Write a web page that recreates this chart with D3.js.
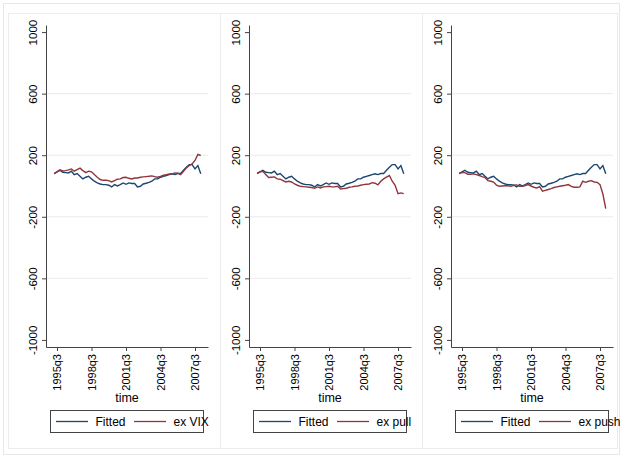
<!DOCTYPE html>
<html><head><meta charset="utf-8">
<script src="https://cdn.jsdelivr.net/npm/d3@7"></script>
<style>body{margin:0;background:#fff} text{font-family:Arial,"Liberation Sans",sans-serif}</style>
</head><body><svg id="c" width="623" height="458"></svg>
<script>
const quarters = ["1995q2","1995q3","1995q4",
"1996q1","1996q2","1996q3","1996q4","1997q1","1997q2","1997q3","1997q4",
"1998q1","1998q2","1998q3","1998q4","1999q1","1999q2","1999q3","1999q4",
"2000q1","2000q2","2000q3","2000q4","2001q1","2001q2","2001q3","2001q4",
"2002q1","2002q2","2002q3","2002q4","2003q1","2003q2","2003q3","2003q4",
"2004q1","2004q2","2004q3","2004q4","2005q1","2005q2","2005q3","2005q4",
"2006q1","2006q2","2006q3","2006q4","2007q1","2007q2","2007q3","2007q4","2008q1"];
const fitted = [81,92,102,89,87,85,96,74,81,63,46,57,63,46,31,20,13,9,9,5,-6,9,0,9,20,11,20,16,16,-6,-2,13,18,24,31,46,46,57,63,68,74,79,74,81,81,102,122,139,139,111,133,79];
const exVIX = [81,92,105,98,100,105,111,96,107,116,100,87,96,92,74,57,42,37,37,35,26,35,44,46,55,57,50,46,52,52,57,59,61,63,66,61,57,63,70,74,79,79,85,83,74,96,118,133,144,166,205,198];
const exPull = [83,92,96,74,55,57,59,46,44,35,26,31,26,13,5,-2,-4,-6,-8,-10,-15,-6,-13,-6,-4,-2,-6,-6,-2,-19,-17,-15,-8,-6,-2,0,5,9,11,13,22,18,7,31,46,57,68,31,5,-50,-45,-50];
const exPush = [83,87,87,76,76,79,74,68,61,55,35,31,26,5,-2,0,2,2,-2,5,7,-2,-2,2,9,0,-8,-13,-4,-34,-28,-23,-17,-10,-6,-2,2,5,9,-2,-8,-8,-6,31,24,31,35,26,24,9,-52,-147];
const yTicks = [-1000,-600,-200,200,600,1000];
const yTickLabels = ["-1000","-600","-200","200","600","1000"];
const gridValues = [-600,-200,200,600];
const xTickLabels = ["1995q3","1998q3","2001q3","2004q3","2007q3"];
const seriesNames = ["Fitted","ex VIX","ex pull","ex push"];

const panels = [
  {label: seriesNames[1], values: exVIX},
  {label: seriesNames[2], values: exPull},
  {label: seriesNames[3], values: exPush}
];
const axisXs = [46, 249, 451];
const colFit = "#1a476f", colRed = "#90353b";
const FONT = 'Arial,"Liberation Sans",sans-serif';

function qIndex(s){ return +s.slice(0,4)*4 + (+s.slice(5)-1); }

const svg = d3.select("#c");
svg.append("rect").attr("width",623).attr("height",458).attr("fill","#fff");
svg.append("rect").attr("x",3.5).attr("y",3.5).attr("width",616).attr("height",451)
   .attr("fill","none").attr("stroke","#e8e8e8");
const boxes = [[8.5,220.5],[220.5,422.5],[422.5,617.5]];
boxes.forEach(b=>{
  svg.append("rect").attr("x",b[0]).attr("y",13.5).attr("width",b[1]-b[0]).attr("height",435)
     .attr("fill","none").attr("stroke","#ececec");
});

const q0 = qIndex("1995q3");
const y = d3.scaleLinear().domain([-1046,1046]).range([347,25]);

panels.forEach((p,k)=>{
  const ax = axisXs[k];
  const x = d3.scaleLinear().domain([q0-3.83, q0+52.52]).range([ax, ax+162]);
  const g = svg.append("g");
  g.selectAll("line.grid").data(gridValues).join("line")
    .attr("x1",ax).attr("x2",ax+162).attr("y1",d=>y(d)).attr("y2",d=>y(d))
    .attr("stroke","#ebebeb").attr("stroke-width",1);
  const ya = g.append("g").attr("transform",`translate(${ax},0)`)
    .call(d3.axisLeft(y).tickValues(yTicks).tickSize(4).tickSizeOuter(0)
      .tickFormat((d,i)=>yTickLabels[i]));
  ya.select(".domain").attr("stroke","#444");
  ya.selectAll(".tick line").attr("stroke","#444");
  ya.selectAll(".tick text").attr("x",0).attr("y",-9).attr("dy",0)
    .attr("text-anchor","middle").attr("transform","rotate(-90)")
    .attr("font-size",11.5).attr("fill","#000").attr("font-family",FONT);
  const xa = g.append("g").attr("transform",`translate(0,347)`)
    .call(d3.axisBottom(x).tickValues(xTickLabels.map(qIndex)).tickSize(4).tickSizeOuter(0)
      .tickFormat((d,i)=>xTickLabels[i]));
  xa.select(".domain").attr("stroke","#444");
  xa.selectAll(".tick line").attr("stroke","#444");
  xa.selectAll(".tick text").attr("x",-7).attr("y",0).attr("dy","0.36em")
    .attr("text-anchor","end").attr("transform","rotate(-90)")
    .attr("font-size",11).attr("fill","#000").attr("font-family",FONT);
  g.append("text").attr("x",ax+81).attr("y",402).attr("text-anchor","middle")
    .attr("font-size",12.5).attr("fill","#000").text("time");
  const line = d3.line().x((d,i)=>x(qIndex(quarters[i]))).y(d=>y(d));
  g.append("path").datum(fitted).attr("d",line).attr("fill","none").attr("stroke",colFit).attr("stroke-width",1.4);
  g.append("path").datum(p.values).attr("d",line).attr("fill","none").attr("stroke",colRed).attr("stroke-width",1.4);
  const lg = g.append("g").attr("transform",`translate(${ax},0)`);
  lg.append("rect").attr("x",4.5).attr("y",410.5).attr("width",153).attr("height",22)
    .attr("fill","#fff").attr("stroke","#444");
  lg.append("line").attr("x1",10).attr("x2",42).attr("y1",421.5).attr("y2",421.5).attr("stroke",colFit).attr("stroke-width",1.3);
  lg.append("text").attr("x",49.5).attr("y",425.5).attr("font-size",12).attr("fill","#000").text(seriesNames[0]);
  lg.append("line").attr("x1",88).attr("x2",120).attr("y1",421.5).attr("y2",421.5).attr("stroke",colRed).attr("stroke-width",1.3);
  lg.append("text").attr("x",127.5).attr("y",425.5).attr("font-size",12).attr("fill","#000").text(p.label);
});
</script></body></html>
